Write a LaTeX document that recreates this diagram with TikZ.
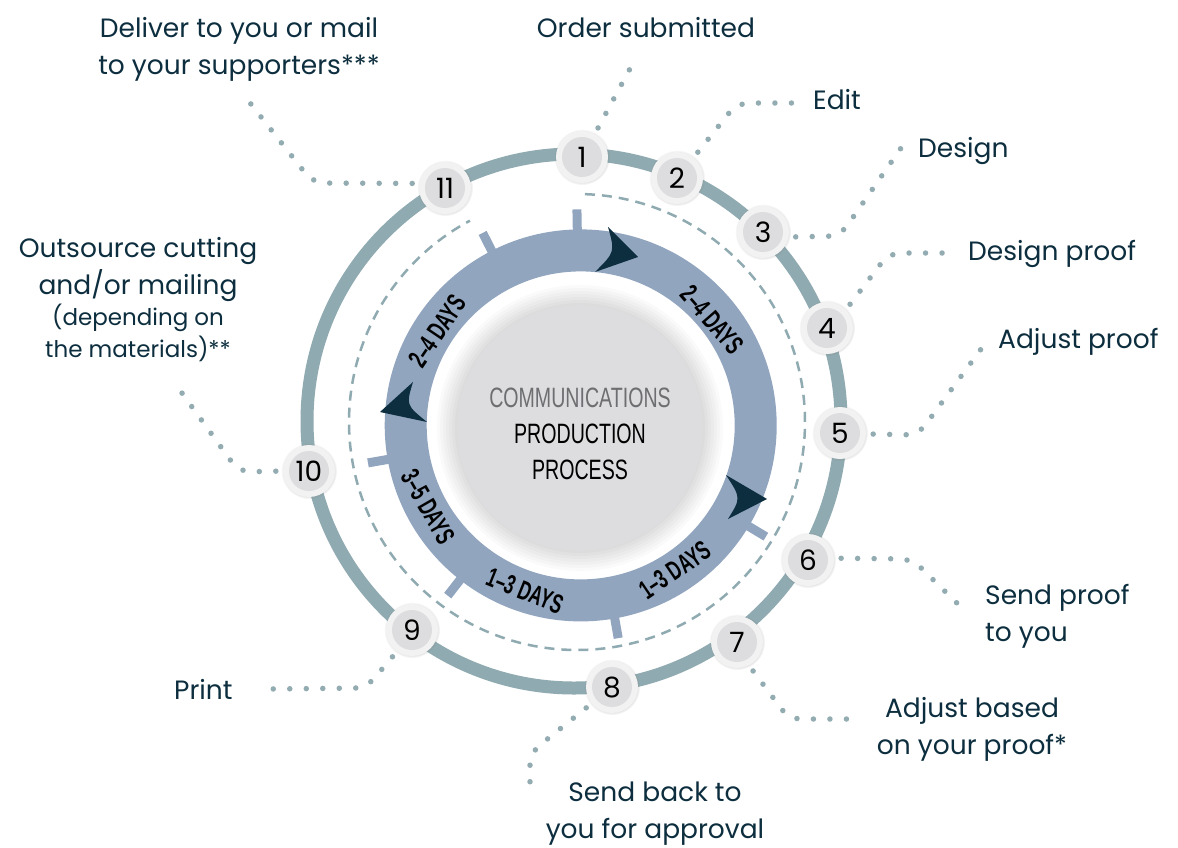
\documentclass[tikz,border=0pt]{standalone}
\usepackage{fontspec}
\setmainfont{Poppins}
\newfontfamily\condfont[FakeStretch=0.7]{Liberation Sans}
\newfontfamily\daysfont[FakeStretch=0.64]{Liberation Sans}
\usepackage{tikz}
\usetikzlibrary{calc,shadows}
\definecolor{ringgray}{HTML}{8FAAB0}
\definecolor{ringblue}{HTML}{91A5BF}
\definecolor{navy}{HTML}{0D2E3E}
\definecolor{dotgray}{HTML}{93ACB2}
\definecolor{discgray}{HTML}{DDDDDF}
\definecolor{captgray}{HTML}{6D6E71}

\begin{document}
\begin{tikzpicture}[x=1pt,y=-1pt,
  num/.style={circle,minimum size=52pt,inner sep=0pt,fill=white!95!black,
    circular drop shadow={opacity=0.3,shadow scale=1.08,shadow xshift=0pt,shadow yshift=0pt},
    path picture={\fill[discgray] (path picture bounding box.center) circle[radius=20pt];},
    font=\fontsize{28}{28}\selectfont},
  lab/.style={text=navy,inner sep=0pt,font=\fontsize{26.5}{37}\selectfont},
  leader/.style={draw=dotgray,line width=5.5pt,line cap=round,
    dash pattern=on 0pt off 16.5pt,rounded corners=12pt,shorten <=7pt},
  days/.style={inner sep=0pt,font=\daysfont\bfseries\fontsize{27}{27}\selectfont},
  tick/.style={draw=ringblue,line width=9pt}]
\useasboundingbox[fill=white] (0,0) rectangle (1178,847);

% rings
\coordinate (c) at (574,421);
\coordinate (d) at (577,422);
\coordinate (b) at (580.7,425.4);
\draw[ringgray,line width=13pt] (c) circle[radius=267];
\draw[ringgray,line width=2.5pt,dash pattern=on 10pt off 7pt]
  ($(d)+(-88:228)$) arc[start angle=-88,end angle=242,radius=228];
\fill[ringblue,even odd rule] (b) circle[radius=196] (b) circle[radius=154];
\foreach \a in {-91,-117,-190,-232,80,31}
  \draw[tick] ($(b)+(\a:190)$) -- ($(b)+(\a:216)$);

% centre disc
\foreach \r in {143,140,...,125}
  \fill[black,opacity=0.018] (580,428) circle[radius=\r];
\fill[discgray] (580,428) circle[radius=123];
\node[font=\condfont\fontsize{28}{36}\selectfont,align=center,anchor=north,inner sep=0pt]
  (title) at (580,388) {\textcolor{captgray}{COMMUNICATIONS}\\PRODUCTION\\PROCESS};

% arrow heads on the blue ring
\fill[navy] (608,227) -- (638,257) -- (595,272) .. controls (615,252) .. (608,227) -- cycle;
\fill[navy] (726,475) -- (767,499) -- (728,519) .. controls (741,498) .. (726,475) -- cycle;
\fill[navy] (413,382) -- (380,412) -- (427,422) .. controls (406,405) .. (413,382) -- cycle;

% durations
\node[days,rotate=-49] (d1) at (712,320) {2–4 DAYS};
\node[days,rotate=56] (d2) at (437,331) {2–4 DAYS};
\node[days,rotate=-60] (d3) at (428,507) {3–5 DAYS};
\node[days,rotate=-22] (d4) at (525,591) {1–3 DAYS};
\node[days,rotate=34] (d5) at (675,570) {1–3 DAYS};

% steps
\node[num] (n1) at (582,157) {1};
\node[num] (n2) at (677,178) {2};
\node[num] (n3) at (763,232) {3};
\node[num] (n4) at (827,328) {4};
\node[num] (n5) at (840,433) {5};
\node[num] (n6) at (808,560) {6};
\node[num] (n7) at (737,642) {7};
\node[num] (n8) at (612,687) {8};
\node[num] (n9) at (412,630) {9};
\node[num] (n10) at (309,471) {10};
\node[num] (n11) at (445,188) {11};

% labels
\node[lab,anchor=base] (l1) at (646,37) {Order submitted};
\node[lab,anchor=base west] (l2) at (813,109) {Edit};
\node[lab,anchor=base west] (l3) at (918,157) {Design};
\node[lab,anchor=base west] (l4) at (968,260) {Design proof};
\node[lab,anchor=base west] (l5) at (998,348) {Adjust proof};
\node[lab,align=left,anchor=north west] (l6) at (985,584) {Send proof\\to you};
\node[lab,align=center,anchor=north] (l7) at (972,697) {Adjust based\\on your proof*};
\node[lab,align=center,anchor=north] (l8) at (655,782) {Send back to\\you for approval};
\node[lab,anchor=base west] (l9) at (174,699) {Print};
\node[lab,align=center,anchor=north] (l10) at (138,237)
  {Outsource cutting\\and/or mailing\\[-5.5pt]{\fontsize{23}{31}\selectfont (depending on}\\[-5.5pt]{\fontsize{23}{31}\selectfont the materials)**}};
\node[lab,align=center,anchor=north] (l11) at (239,17) {Deliver to you or mail\\to your supporters***};

% leaders
\coordinate (e1) at (632,65);
\coordinate (e2) at (798,103);
\coordinate (e3) at (901,148);
\coordinate (e4) at (954,253);
\coordinate (e5) at (984,345);
\coordinate (e6) at (965,611);
\coordinate (e7) at (850,719);
\coordinate (e8) at (530,794);
\coordinate (e9) at (267,689);
\coordinate (e10) at (174,382);
\coordinate (e11) at (243,94);
\draw[leader] (n1.61) -- (e1);
\draw[leader] (n2.51) -- (737,103) -- (e2);
\draw[leader] (n3.-11) -- (840,236) -- (e3);
\draw[leader] (n4.44) -- (889,253) -- (e4);
\draw[leader] (n5.-2) -- (918,435) -- (e5);
\draw[leader] (n6.4) -- (912,559) -- (e6);
\draw[leader] (n7.-63) -- (789,719) -- (e7);
\draw[leader] (n8.219) -- (530,753) -- (e8);
\draw[leader] (n9.235) -- (366,688) -- (e9);
\draw[leader] (n10.180) -- (239,472) -- (e10);
\draw[leader] (n11.170) -- (313,183) -- (e11);
\end{tikzpicture}
\end{document}
